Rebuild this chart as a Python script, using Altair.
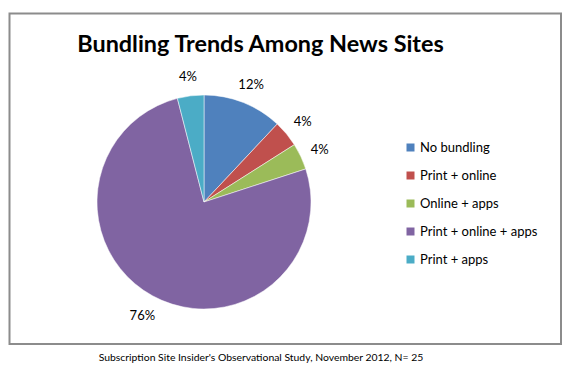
import altair as alt
import pandas as pd

categories = ["No bundling", "Print + online", "Online + apps", "Print + online + apps", "Print + apps"]
counts = [3, 1, 1, 19, 1]
pct_labels = ["12%", "4%", "4%", "76%", "4%"]
colors = ["#4F81BD", "#C0504D", "#9BBB59", "#8064A2", "#4BACC6"]
title_text = "Bundling Trends Among News Sites"
source_text = "Subscription Site Insider's Observational Study, November 2012, N= 25"

df = pd.DataFrame({"cat": categories, "n": counts, "lbl": pct_labels, "idx": list(range(len(categories)))})

FONT = "Lato"
CX, CY, R = 196, 194, 107

base = alt.Chart(df).encode(
    theta=alt.Theta("n:Q", stack=True),
    order=alt.Order("idx:Q"),
)

color = alt.Color(
    "cat:N",
    scale=alt.Scale(domain=categories, range=colors),
    sort=categories,
    legend=alt.Legend(
        title=None, orient="none", legendX=396, legendY=133,
        symbolType="square", symbolSize=64, symbolStrokeWidth=0,
        labelFont=FONT, labelFontSize=13, labelColor="#000000",
        rowPadding=14, labelOffset=3,
    ),
)

pie = base.mark_arc(outerRadius=R, stroke="white", strokeWidth=0.5).encode(
    color=color, x=alt.value(CX), y=alt.value(CY)
)

labels = base.mark_text(font=FONT, fontSize=13, color="#000000", dy=2).encode(
    text="lbl:N", radius=alt.value(128), x=alt.value(CX), y=alt.value(CY)
)

frame_df = pd.DataFrame({"t": [title_text], "s": [source_text]})
frame = alt.Chart(frame_df).mark_rect(fill="white", stroke="#8c8c8c", strokeWidth=2).encode(
    x=alt.value(1.5), x2=alt.value(553), y=alt.value(5.5), y2=alt.value(336)
)
title = alt.Chart(frame_df).mark_text(font=FONT, fontSize=23.4, fontWeight="bold", color="#000000").encode(
    text="t:N", x=alt.value(252.5), y=alt.value(37)
)
source = alt.Chart(frame_df).mark_text(font=FONT, fontSize=10.4, color="#000000").encode(
    text="s:N", x=alt.value(253), y=alt.value(350)
)

chart = alt.layer(frame, pie, labels, title, source).properties(
    width=557, height=361, autosize=alt.AutoSizeParams(type="none"), padding=0,
    background="white",
).configure_view(stroke=None)

chart.save("out.html", embed_options={"renderer": "svg", "actions": False})
